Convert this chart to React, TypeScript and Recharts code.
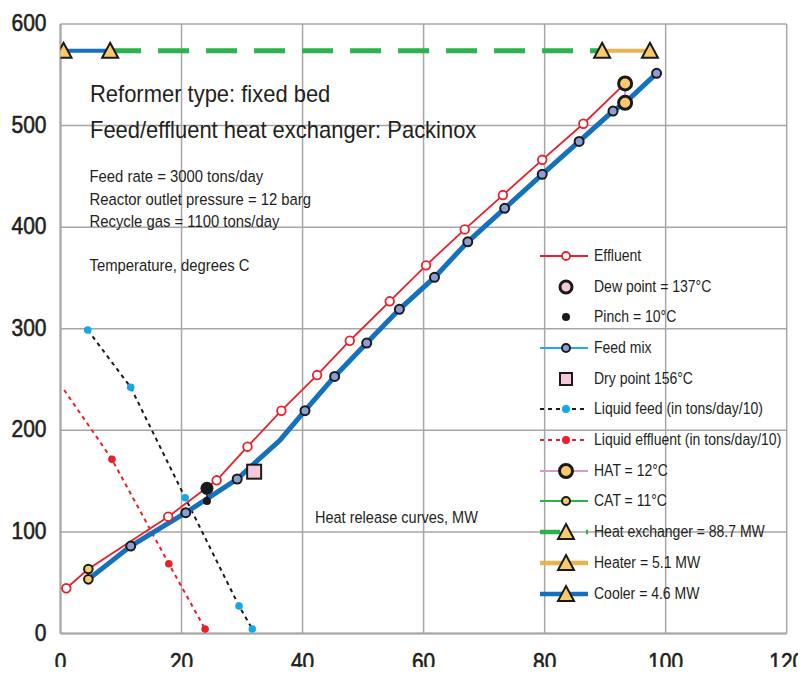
import React from "react";
import {
  ComposedChart,
  Line,
  XAxis,
  YAxis,
  CartesianGrid,
  Legend,
} from "recharts";

type Pt = { x: number; y: number };

// heat release (MW) vs temperature (degrees C)
const effluent: Pt[] = [
  { x: 0.96, y: 44.5 },
  { x: 4.6, y: 63.5 },
  { x: 17.8, y: 115 },
  { x: 25.8, y: 150.8 },
  { x: 30.9, y: 183.9 },
  { x: 36.5, y: 219.3 },
  { x: 42.4, y: 254.4 },
  { x: 47.8, y: 288.2 },
  { x: 54.4, y: 327 },
  { x: 60.4, y: 362.4 },
  { x: 66.8, y: 397.8 },
  { x: 73.1, y: 431.6 },
  { x: 79.6, y: 466.3 },
  { x: 86.4, y: 501.8 },
  { x: 93.3, y: 541.5 },
];

const feedMix: Pt[] = [
  { x: 4.6, y: 53.3 },
  { x: 11.6, y: 86.1 },
  { x: 20.7, y: 118.9 },
  { x: 29.2, y: 152.1 },
  { x: 36.3, y: 190.5 },
  { x: 40.4, y: 219.3 },
  { x: 45.3, y: 253.1 },
  { x: 50.6, y: 285.9 },
  { x: 56.0, y: 319.1 },
  { x: 61.8, y: 350.6 },
  { x: 67.3, y: 385.6 },
  { x: 73.4, y: 418.5 },
  { x: 79.6, y: 452 },
  { x: 85.7, y: 484.4 },
  { x: 91.3, y: 514.3 },
  { x: 93.3, y: 522.4 },
  { x: 98.5, y: 551.4 },
];

const liquidFeed: Pt[] = [
  { x: 4.5, y: 298.7 },
  { x: 11.6, y: 242.3 },
  { x: 20.6, y: 133.7 },
  { x: 29.5, y: 27.1 },
  { x: 31.7, y: 4.4 },
];

const liquidEffluent: Pt[] = [
  { x: 0.6, y: 239.7 },
  { x: 8.5, y: 171.5 },
  { x: 17.9, y: 68.7 },
  { x: 23.9, y: 4.4 },
];

const cooler: Pt[] = [
  { x: 0.5, y: 573.6 },
  { x: 8.2, y: 573.6 },
];
const heatExchanger: Pt[] = [
  { x: 8.2, y: 573.6 },
  { x: 89.5, y: 573.6 },
];
const heater: Pt[] = [
  { x: 89.5, y: 573.6 },
  { x: 97.4, y: 573.6 },
];

const hat: Pt[] = [
  { x: 93.3, y: 541.5 },
  { x: 93.3, y: 522.4 },
];
const cat: Pt[] = [
  { x: 4.6, y: 63.5 },
  { x: 4.6, y: 53.3 },
];
const pinch: Pt[] = [
  { x: 24.2, y: 142.9 },
  { x: 24.2, y: 130.4 },
];
const dryPoint: Pt[] = [{ x: 32.0, y: 159.3 }];

const xTicks = [0, 20, 40, 60, 80, 100, 120];
const yTicks = [0, 100, 200, 300, 400, 500, 600];

const legendLabels = [
  "Effluent",
  "Dew point = 137°C",
  "Pinch = 10°C",
  "Feed mix",
  "Dry point 156°C",
  "Liquid feed (in tons/day/10)",
  "Liquid effluent (in tons/day/10)",
  "HAT = 12°C",
  "CAT = 11°C",
  "Heat exchanger = 88.7 MW",
  "Heater = 5.1 MW",
  "Cooler = 4.6 MW",
];

// condensed look: Liberation Sans squeezed horizontally
const FONT = '"Liberation Sans", Arial, sans-serif';
const TXT = "#231f20";
const RED = "#e8212a";
const BLUE = "#1570be";
const LIGHTBLUE = "#27aae1";
const CYAN = "#13a9e6";
const GREEN = "#2ab34b";
const ORANGE = "#ebb44b";
const YELLOW = "#f8ca6a";
const PINK = "#f6c8dc";
const LAVENDER = "#8c9fd0";
const HATLINE = "#d49ad2";

const tri = (cx: number, cy: number) =>
  `M${cx},${cy - 8} L${cx + 8},${cy + 7} L${cx - 8},${cy + 7} Z`;

const dotFn =
  (render: (cx: number, cy: number) => React.ReactElement, hide: number[] = []) =>
  (p: any) => {
    if (hide.includes(p.index) || p.cx == null) return <g key={`d-${p.index}`} />;
    return <g key={`d-${p.index}`}>{render(p.cx, p.cy)}</g>;
  };

const NText = ({
  x,
  y,
  size,
  sx,
  anchor = "start",
  heavy = false,
  children,
}: {
  x: number;
  y: number;
  size: number;
  sx: number;
  anchor?: "start" | "middle" | "end";
  heavy?: boolean;
  children: React.ReactNode;
}) => (
  <text
    transform={`translate(${x},${y}) scale(${sx},1)`}
    textAnchor={anchor}
    fontFamily={FONT}
    fontSize={size}
    fill={TXT}
    stroke={heavy ? TXT : undefined}
    strokeWidth={heavy ? 0.6 : undefined}
  >
    {children}
  </text>
);

const XTick = (props: any) => {
  const { x, y, payload } = props;
  return (
    <NText x={x} y={y + 36.5} size={23.5} sx={0.89} anchor="middle" heavy>
      {payload.value}
    </NText>
  );
};

const YTick = (props: any) => {
  const { x, y, payload } = props;
  return (
    <NText x={x - 14} y={y + 7} size={24} sx={0.875} anchor="end" heavy>
      {payload.value}
    </NText>
  );
};

const LegendIcon = ({ i }: { i: number }) => {
  const c = 26;
  const m = 15;
  switch (i) {
    case 0:
      return (
        <>
          <line x1={0} x2={48} y1={m} y2={m} stroke={RED} strokeWidth={2} />
          <circle cx={c} cy={m} r={4} fill="#fff" stroke={RED} strokeWidth={1.8} />
        </>
      );
    case 1:
      return <circle cx={c} cy={m} r={6} fill={PINK} stroke="#1a1a1a" strokeWidth={3} />;
    case 2:
      return <circle cx={c} cy={m} r={4} fill="#1a1a1a" />;
    case 3:
      return (
        <>
          <line x1={0} x2={48} y1={m} y2={m} stroke={LIGHTBLUE} strokeWidth={2} />
          <circle cx={c} cy={m} r={4} fill={LAVENDER} stroke="#1a1a1a" strokeWidth={2} />
        </>
      );
    case 4:
      return <rect x={c - 6} y={m - 6} width={12} height={12} fill={PINK} stroke="#1a1a1a" strokeWidth={2} />;
    case 5:
      return (
        <>
          <line x1={0} x2={48} y1={m} y2={m} stroke="#1a1a1a" strokeWidth={2} strokeDasharray="4 4" />
          <circle cx={c} cy={m} r={4} fill={CYAN} />
        </>
      );
    case 6:
      return (
        <>
          <line x1={0} x2={48} y1={m} y2={m} stroke={RED} strokeWidth={2} strokeDasharray="4 4" />
          <circle cx={c} cy={m} r={4} fill={RED} />
        </>
      );
    case 7:
      return (
        <>
          <line x1={0} x2={48} y1={m} y2={m} stroke={HATLINE} strokeWidth={2} />
          <circle cx={c} cy={m} r={6.5} fill={YELLOW} stroke="#1a1a1a" strokeWidth={3} />
        </>
      );
    case 8:
      return (
        <>
          <line x1={0} x2={48} y1={m} y2={m} stroke={GREEN} strokeWidth={2} />
          <circle cx={c} cy={m} r={4} fill={YELLOW} stroke="#1a1a1a" strokeWidth={2} />
        </>
      );
    default: {
      const col = i === 9 ? GREEN : i === 10 ? ORANGE : BLUE;
      return (
        <>
          <line
            x1={0}
            x2={48}
            y1={m}
            y2={m}
            stroke={col}
            strokeWidth={4.5}
            strokeDasharray={i === 9 ? "20 26" : undefined}
          />
          <path d={tri(c, m)} fill={YELLOW} stroke="#1a1a1a" strokeWidth={2} />
        </>
      );
    }
  }
};

const renderLegend = () => (
  <div style={{ fontFamily: FONT, fontSize: 16, color: TXT }}>
    {legendLabels.map((label, i) => (
      <div
        key={`legend-${label}`}
        style={{ display: "flex", alignItems: "center", height: 30.7 }}
      >
        <svg width={48} height={30} style={{ display: "block", flex: "none" }}>
          <LegendIcon i={i} />
        </svg>
        <span
          style={{
            marginLeft: 6,
            whiteSpace: "nowrap",
            display: "inline-block",
            transform: "scaleX(0.875)",
            transformOrigin: "left center",
          }}
        >
          {label}
        </span>
      </div>
    ))}
  </div>
);

export default function App() {
  // cancel the body margin so the chart fills the 806x675 page
  return (
    <div style={{ margin: -8, width: 806, height: 675 }}>
      <ComposedChart
        width={806}
        height={675}
        margin={{ top: 24, right: 19.3, left: 0, bottom: 0 }}
      >
        <CartesianGrid stroke="#a6a6a6" strokeWidth={1.5} />
        <XAxis
          type="number"
          dataKey="x"
          domain={[0, 120]}
          ticks={xTicks}
          allowDataOverflow
          height={41.5}
          tickLine={false}
          tickSize={0}
          tickMargin={0}
          axisLine={{ stroke: "#a6a6a6", strokeWidth: 2 }}
          tick={<XTick />}
        />
        <YAxis
          type="number"
          dataKey="y"
          domain={[0, 600]}
          ticks={yTicks}
          allowDataOverflow
          width={60.5}
          tickLine={false}
          tickSize={0}
          tickMargin={0}
          axisLine={{ stroke: "#a6a6a6", strokeWidth: 2 }}
          tick={<YTick />}
        />

        <Line
          data={liquidEffluent}
          dataKey="y"
          stroke={RED}
          strokeWidth={2}
          strokeDasharray="4 4"
          isAnimationActive={false}
          dot={dotFn((cx, cy) => <circle cx={cx} cy={cy} r={3.8} fill={RED} />, [0])}
        />
        <Line
          data={liquidFeed}
          dataKey="y"
          stroke="#1a1a1a"
          strokeWidth={2}
          strokeDasharray="4 4"
          isAnimationActive={false}
          dot={dotFn((cx, cy) => <circle cx={cx} cy={cy} r={3.8} fill={CYAN} />)}
        />
        <Line
          data={feedMix}
          dataKey="y"
          stroke={BLUE}
          strokeWidth={5}
          isAnimationActive={false}
          dot={dotFn(
            (cx, cy) => (
              <circle cx={cx} cy={cy} r={4.5} fill={LAVENDER} stroke="#1a1a1a" strokeWidth={2} />
            ),
            [0, 4, 15]
          )}
        />
        <Line
          data={effluent}
          dataKey="y"
          stroke={RED}
          strokeWidth={1.8}
          isAnimationActive={false}
          dot={dotFn(
            (cx, cy) => (
              <circle cx={cx} cy={cy} r={4.3} fill="#fff" stroke={RED} strokeWidth={1.8} />
            ),
            [1, 14]
          )}
        />

        <Line
          data={pinch}
          dataKey="y"
          stroke="#1a1a1a"
          strokeWidth={1.5}
          isAnimationActive={false}
          dot={(p: any) => (
            <circle key={`p-${p.index}`} cx={p.cx} cy={p.cy} r={p.index === 0 ? 6.5 : 4} fill="#1a1a1a" />
          )}
        />
        <Line
          data={dryPoint}
          dataKey="y"
          stroke="none"
          isAnimationActive={false}
          dot={dotFn((cx, cy) => (
            <rect x={cx - 7} y={cy - 7} width={14} height={14} fill={PINK} stroke="#1a1a1a" strokeWidth={2} />
          ))}
        />
        <Line
          data={cat}
          dataKey="y"
          stroke={GREEN}
          strokeWidth={2}
          isAnimationActive={false}
          dot={dotFn((cx, cy) => (
            <circle cx={cx} cy={cy} r={4.3} fill={YELLOW} stroke="#1a1a1a" strokeWidth={2} />
          ))}
        />
        <Line
          data={hat}
          dataKey="y"
          stroke={HATLINE}
          strokeWidth={2}
          isAnimationActive={false}
          dot={dotFn((cx, cy) => (
            <circle cx={cx} cy={cy} r={6.5} fill={YELLOW} stroke="#1a1a1a" strokeWidth={3} />
          ))}
        />

        <Line
          data={heatExchanger}
          dataKey="y"
          stroke={GREEN}
          strokeWidth={5}
          strokeDasharray="31 17"
          isAnimationActive={false}
          dot={false}
        />
        <Line
          data={cooler}
          dataKey="y"
          stroke={BLUE}
          strokeWidth={4}
          isAnimationActive={false}
          dot={dotFn((cx, cy) => (
            <path d={tri(cx, cy)} fill={YELLOW} stroke="#1a1a1a" strokeWidth={2} />
          ))}
        />
        <Line
          data={heater}
          dataKey="y"
          stroke={ORANGE}
          strokeWidth={4}
          isAnimationActive={false}
          dot={dotFn((cx, cy) => (
            <path d={tri(cx, cy)} fill={YELLOW} stroke="#1a1a1a" strokeWidth={2} />
          ))}
        />

        <g>
          <NText x={90} y={102} size={23} sx={0.955}>
            Reformer type: fixed bed
          </NText>
          <NText x={90} y={137.5} size={23} sx={0.955}>
            Feed/effluent heat exchanger: Packinox
          </NText>
          <NText x={89.5} y={182.3} size={16.5} sx={0.9}>
            Feed rate = 3000 tons/day
          </NText>
          <NText x={89.5} y={205} size={16.5} sx={0.9}>
            Reactor outlet pressure = 12 barg
          </NText>
          <NText x={89.5} y={226.7} size={16.5} sx={0.9}>
            Recycle gas = 1100 tons/day
          </NText>
          <NText x={89.5} y={270.7} size={16.5} sx={0.9}>
            Temperature, degrees C
          </NText>
          <NText x={315} y={523.3} size={16.5} sx={0.88}>
            Heat release curves, MW
          </NText>
        </g>

        <Legend
          layout="horizontal"
          align="center"
          verticalAlign="middle"
          content={renderLegend}
          wrapperStyle={{ left: 540, top: 240.6, width: 262, height: 370 }}
        />
      </ComposedChart>
    </div>
  );
}
